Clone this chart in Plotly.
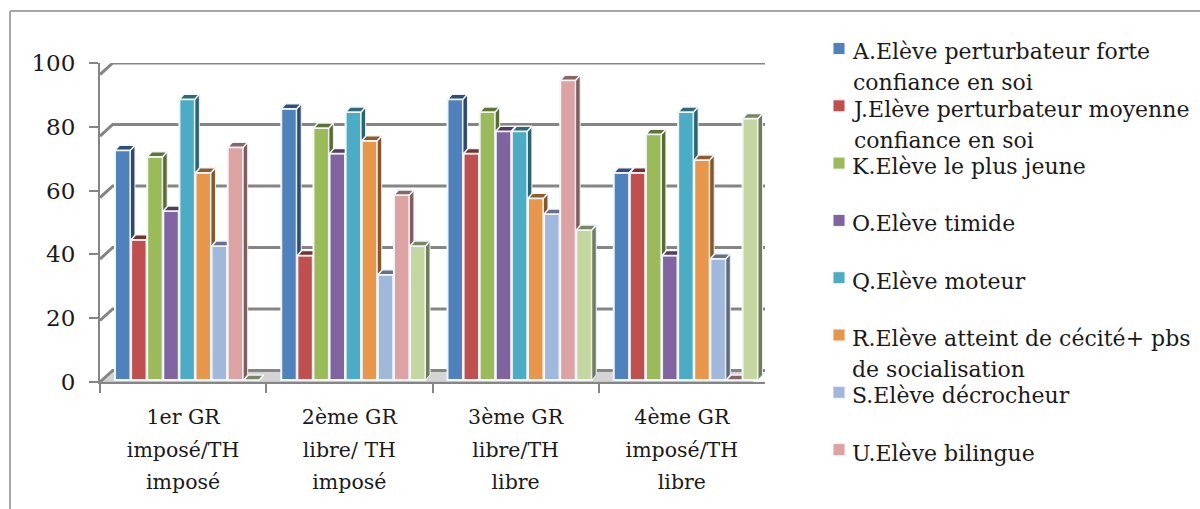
import plotly.graph_objects as go

W, H = 1200, 509

groups = ["1er GR<br>imposé/TH<br>imposé", "2ème GR<br>libre/ TH<br>imposé",
          "3ème GR<br>libre/TH<br>libre", "4ème GR<br>imposé/TH<br>libre"]

serie_a = [72, 85, 88, 65]
serie_j = [44, 39, 71, 65]
serie_k = [70, 79, 84, 77]
serie_o = [53, 71, 78, 39]
serie_q = [88, 84, 78, 84]
serie_r = [65, 75, 57, 69]
serie_s = [42, 33, 52, 38]
serie_u = [73, 58, 94, 0]
serie_v = [0, 42, 47, 82]

names = ["A.Elève perturbateur forte<br>confiance en soi",
         "J.Elève perturbateur moyenne<br>confiance en soi",
         "K.Elève le plus jeune",
         "O.Elève timide",
         "Q.Elève moteur",
         "R.Elève atteint de cécité+ pbs<br>de socialisation",
         "S.Elève décrocheur",
         "U.Elève bilingue",
         ""]
series = [serie_a, serie_j, serie_k, serie_o, serie_q, serie_r, serie_s, serie_u, serie_v]
colors = ["#4f81bd", "#c0504d", "#9bbb59", "#8064a2", "#4bacc6", "#e8964a", "#a0b8dc", "#dca3a2", "#c5d7a0"]
y_ticks = [0, 20, 40, 60, 80, 100]

FONT = "DejaVu Serif, serif"
TEXT = "#1a1a1a"
GRID = "#858585"

# plot box of the front axes, in pixels
PX0, PX1, PY0, PY1 = 100, 765, 382, 63
ux = (PX1 - PX0) / 4          # px per category
uy = (PY0 - PY1) / 100        # px per value unit
START = 15 / ux               # first bar offset in a group
PITCH = 16.1 / ux             # bar pitch
BASE = 2 / uy                 # lift of the bars' plane above the front axis
DX, DY = 4.5 / ux, 5 / uy     # bar depth
WX, WY = 13 / ux, 12 / uy     # wall depth


def shade(c, f):
    r, g, b = int(c[1:3], 16), int(c[3:5], 16), int(c[5:7], 16)
    return "rgb(%d,%d,%d)" % (r * f, g * f, b * f)


fig = go.Figure()

# invisible trace that gives the category axis its labels
fig.add_trace(go.Scatter(x=groups, y=[0] * 4, mode="markers", marker=dict(opacity=0),
                         showlegend=False, hoverinfo="skip", xaxis="x", yaxis="y"))

# floor (on a wider hidden pair of axes, so that the walls can stick out behind the front axes)
fig.add_trace(go.Scatter(x=[0, WX, 4 + WX, 4, 0], y=[0, WY, WY, 0, 0], mode="lines", fill="toself",
                         fillcolor="#d4d4d4", line=dict(color="#b5b5b5", width=1),
                         showlegend=False, hoverinfo="skip", cliponaxis=False, xaxis="x2", yaxis="y2"))
# wall grid lines with their side returns
gx, gy = [], []
for t in y_ticks:
    gx += [0, WX, 4 + WX, None]
    gy += [t, t + WY, t + WY, None]
fig.add_trace(go.Scatter(x=gx, y=gy, mode="lines", line=dict(color=GRID, width=3),
                         showlegend=False, hoverinfo="skip", cliponaxis=False, xaxis="x2", yaxis="y2"))

axes = {}
for i, (vals, col, name) in enumerate(zip(series, colors, names)):
    ax = "x%d" % (i + 3)
    axes["xaxis%d" % (i + 3)] = dict(overlaying="x", range=[0, 4], visible=False, anchor="y",
                                     domain=[PX0 / W, PX1 / W])
    xs = [g + START + i * PITCH for g in range(4)]
    fig.add_trace(go.Bar(x=xs, y=vals, base=[BASE] * 4, width=PITCH * 0.96, offset=0,
                         marker=dict(color=col, line=dict(color="#f2f6fb", width=2)),
                         name=name.replace("<br>", " ") or "Série 9", showlegend=False,
                         xaxis=ax, yaxis="y", cliponaxis=False))
    sx, sy, tx, ty = [], [], [], []
    for x0, v in zip(xs, vals):
        x1 = x0 + PITCH * 0.96
        top = BASE + v
        sx += [x1, x1 + DX, x1 + DX, x1, x1, None]
        sy += [BASE, BASE + DY, top + DY, top, BASE, None]
        tx += [x0, x0 + DX, x1 + DX, x1, x0, None]
        ty += [top, top + DY, top + DY, top, top, None]
    fig.add_trace(go.Scatter(x=sx, y=sy, mode="lines", fill="toself", fillcolor=shade(col, 0.58),
                             line=dict(color="#eef2f6", width=1), showlegend=False, hoverinfo="skip",
                             cliponaxis=False, xaxis=ax, yaxis="y"))
    fig.add_trace(go.Scatter(x=tx, y=ty, mode="lines", fill="toself", fillcolor=shade(col, 0.62),
                             line=dict(color="#f2f6fb", width=1.5), showlegend=False, hoverinfo="skip",
                             cliponaxis=False, xaxis=ax, yaxis="y"))

# chart frame
shapes = [
    dict(type="line", xref="paper", yref="paper", x0=10 / W, x1=1, y0=1 - 11 / H, y1=1 - 11 / H,
         line=dict(color="#a6a6a6", width=2)),
    dict(type="line", xref="paper", yref="paper", x0=10 / W, x1=10 / W, y0=0, y1=1 - 11 / H,
         line=dict(color="#a6a6a6", width=2)),
]

# legend
annotations = []
LEG_Y0, LEG_STEP = 48.5, 57.3
for i, (name, col) in enumerate(zip(names[:8], colors[:8])):
    cy = LEG_Y0 + i * LEG_STEP
    shapes.append(dict(type="rect", xref="paper", yref="paper", x0=833 / W, x1=845 / W,
                       y0=1 - (cy + 6) / H, y1=1 - (cy - 6) / H,
                       fillcolor=col, line=dict(color="#f4f6fa", width=1)))
    txt = "<br>".join('<span style="font-size:22px">%s</span>' % s for s in name.split("<br>"))
    annotations.append(dict(xref="paper", yref="paper", x=851 / W, y=1 - (cy - 10) / H,
                            xanchor="left", yanchor="top", align="left", showarrow=False,
                            text=txt, font=dict(family=FONT, size=24, color=TEXT),
                            borderpad=0, xshift=0))

tick_txt = ['<span style="font-size:20.5px">%s</span>' % "</span><br><span style=\"font-size:20.5px\">".join(g.split("<br>"))
            for g in groups]

fig.update_layout(
    width=W, height=H, autosize=False, margin=dict(l=0, r=0, t=0, b=0, autoexpand=False),
    paper_bgcolor="white", plot_bgcolor="white", showlegend=False, barmode="overlay",
    font=dict(family=FONT, color=TEXT),
    xaxis=dict(type="category", categoryorder="array", categoryarray=groups, range=[-0.5, 3.5],
               domain=[PX0 / W, PX1 / W], tickson="boundaries", ticks="outside", ticklen=9, tickwidth=2,
               tickcolor=GRID, showline=True, linecolor=GRID, linewidth=2, showgrid=False, zeroline=False,
               tickmode="array", tickvals=groups, ticktext=tick_txt,
               tickfont=dict(family=FONT, size=25, color=TEXT), tickangle=0, anchor="y", ticklabelstandoff=10),
    xaxis2=dict(overlaying="x", range=[0, 4 + WX], visible=False, anchor="y2",
                domain=[PX0 / W, (PX1 + 13) / W]),
    yaxis2=dict(overlaying="y", range=[0, 100 + WY], visible=False, anchor="x2",
                domain=[1 - PY0 / H, 1 - (PY1 - 12) / H]),
    yaxis=dict(range=[0, 100], domain=[1 - PY0 / H, 1 - PY1 / H], tickmode="array", tickvals=y_ticks,
               ticks="outside", ticklen=9, tickwidth=2, tickcolor=GRID, showline=True, linecolor=GRID,
               linewidth=2, showgrid=False, zeroline=False, anchor="x", ticklabelstandoff=9,
               tickfont=dict(family=FONT, size=23, color=TEXT)),
    shapes=shapes, annotations=annotations,
    **axes,
)

fig.write_html("out.html", config={"displayModeBar": False},
               post_script="document.body.style.margin='0';document.body.style.overflow='hidden';")
